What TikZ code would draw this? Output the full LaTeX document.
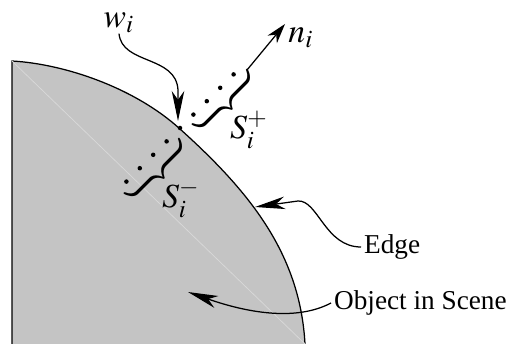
\documentclass[tikz,border=0pt]{standalone}
\usepackage{mathptmx}
\usepackage{fontspec}
\setmainfont{Liberation Serif}
\usetikzlibrary{calc}
\usetikzlibrary{arrows.meta}
\definecolor{objGray}{HTML}{c4c4c4}
\definecolor{seamGray}{HTML}{d8d8d8}

\begin{document}
\begin{tikzpicture}[x=0.4pt, y=-0.4pt, line width=0.5pt,
    font=\fontsize{10.9}{13}\selectfont,
    pointer/.style={-{Stealth[length=12pt, width=5pt, inset=3.5pt]}},
    shortPointer/.style={-{Stealth[length=8pt, width=4.8pt, inset=2.5pt]}},
    mathLabel/.style={inner sep=0pt, font=\fontsize{13.5}{16}\selectfont},
    setBrace/.style={inner sep=0pt, rotate=-45, font=\fontsize{17.5}{20}\selectfont}]
    \pgfmathsetmacro{\dotStep}{13.4}
    \pgfmathsetmacro{\dotRadius}{0.9}

    \useasboundingbox (0,0) rectangle (510,344);

    % object and its edge
    \draw [fill=objGray] (12,350) -- (12,61) .. controls (65,64) and (135,88) .. (180,129)
        .. controls (250,192) and (300,254) .. (305,344) -- (305.3,350);
    \draw [seamGray, line width=0.3pt] (12,61) -- (305,344);

    % sample points along the normal
    \coordinate (w) at (180,128);
    \fill (w) circle[radius=\dotRadius pt];
    \foreach \k in {1,...,4} {
        \fill ($(w)+(\k*\dotStep,-\k*\dotStep)$) circle[radius=\dotRadius pt];
        \fill ($(w)+(-\k*\dotStep,\k*\dotStep)$) circle[radius=\dotRadius pt];
    }

    \node (plusBrace) [setBrace] at (226,103) {$\Big\}$};
    \node (minusBrace) [setBrace] at (158,172) {$\Big\}$};
    \node (plusLabel) [mathLabel] at (249,130) {$S_i^+$};
    \node (minusLabel) [mathLabel] at (181,199) {$S_i^-$};

    \node (wLabel) [mathLabel] at (119,23) {$w_i$};
    \coordinate (wTip) at (178,121);
    \draw [pointer] (wLabel.south) .. controls (122,65) and (176,55) .. (178,90) -- (wTip);

    \coordinate (nTail) at (247,70);
    \coordinate (nTip) at (285,24);
    \draw [shortPointer] (nTail) -- (nTip);
    \node (nLabel) [mathLabel] at (301,38) {$n_i$};

    \node (edgeLabel) [anchor=west, inner sep=1pt] at (361,247) {Edge};
    \coordinate (edgeTip) at (255,207);
    \draw [pointer] (edgeLabel.west) .. controls (325,247) and (318,200) .. (298,201) -- (edgeTip);

    \node (objLabel) [anchor=west, inner sep=1pt] at (331,303) {Object in Scene};
    \coordinate (objTip) at (188,292);
    \draw [pointer] (objLabel.west) .. controls (295,322) and (245,312) .. (objTip);

\end{tikzpicture}
\end{document}
